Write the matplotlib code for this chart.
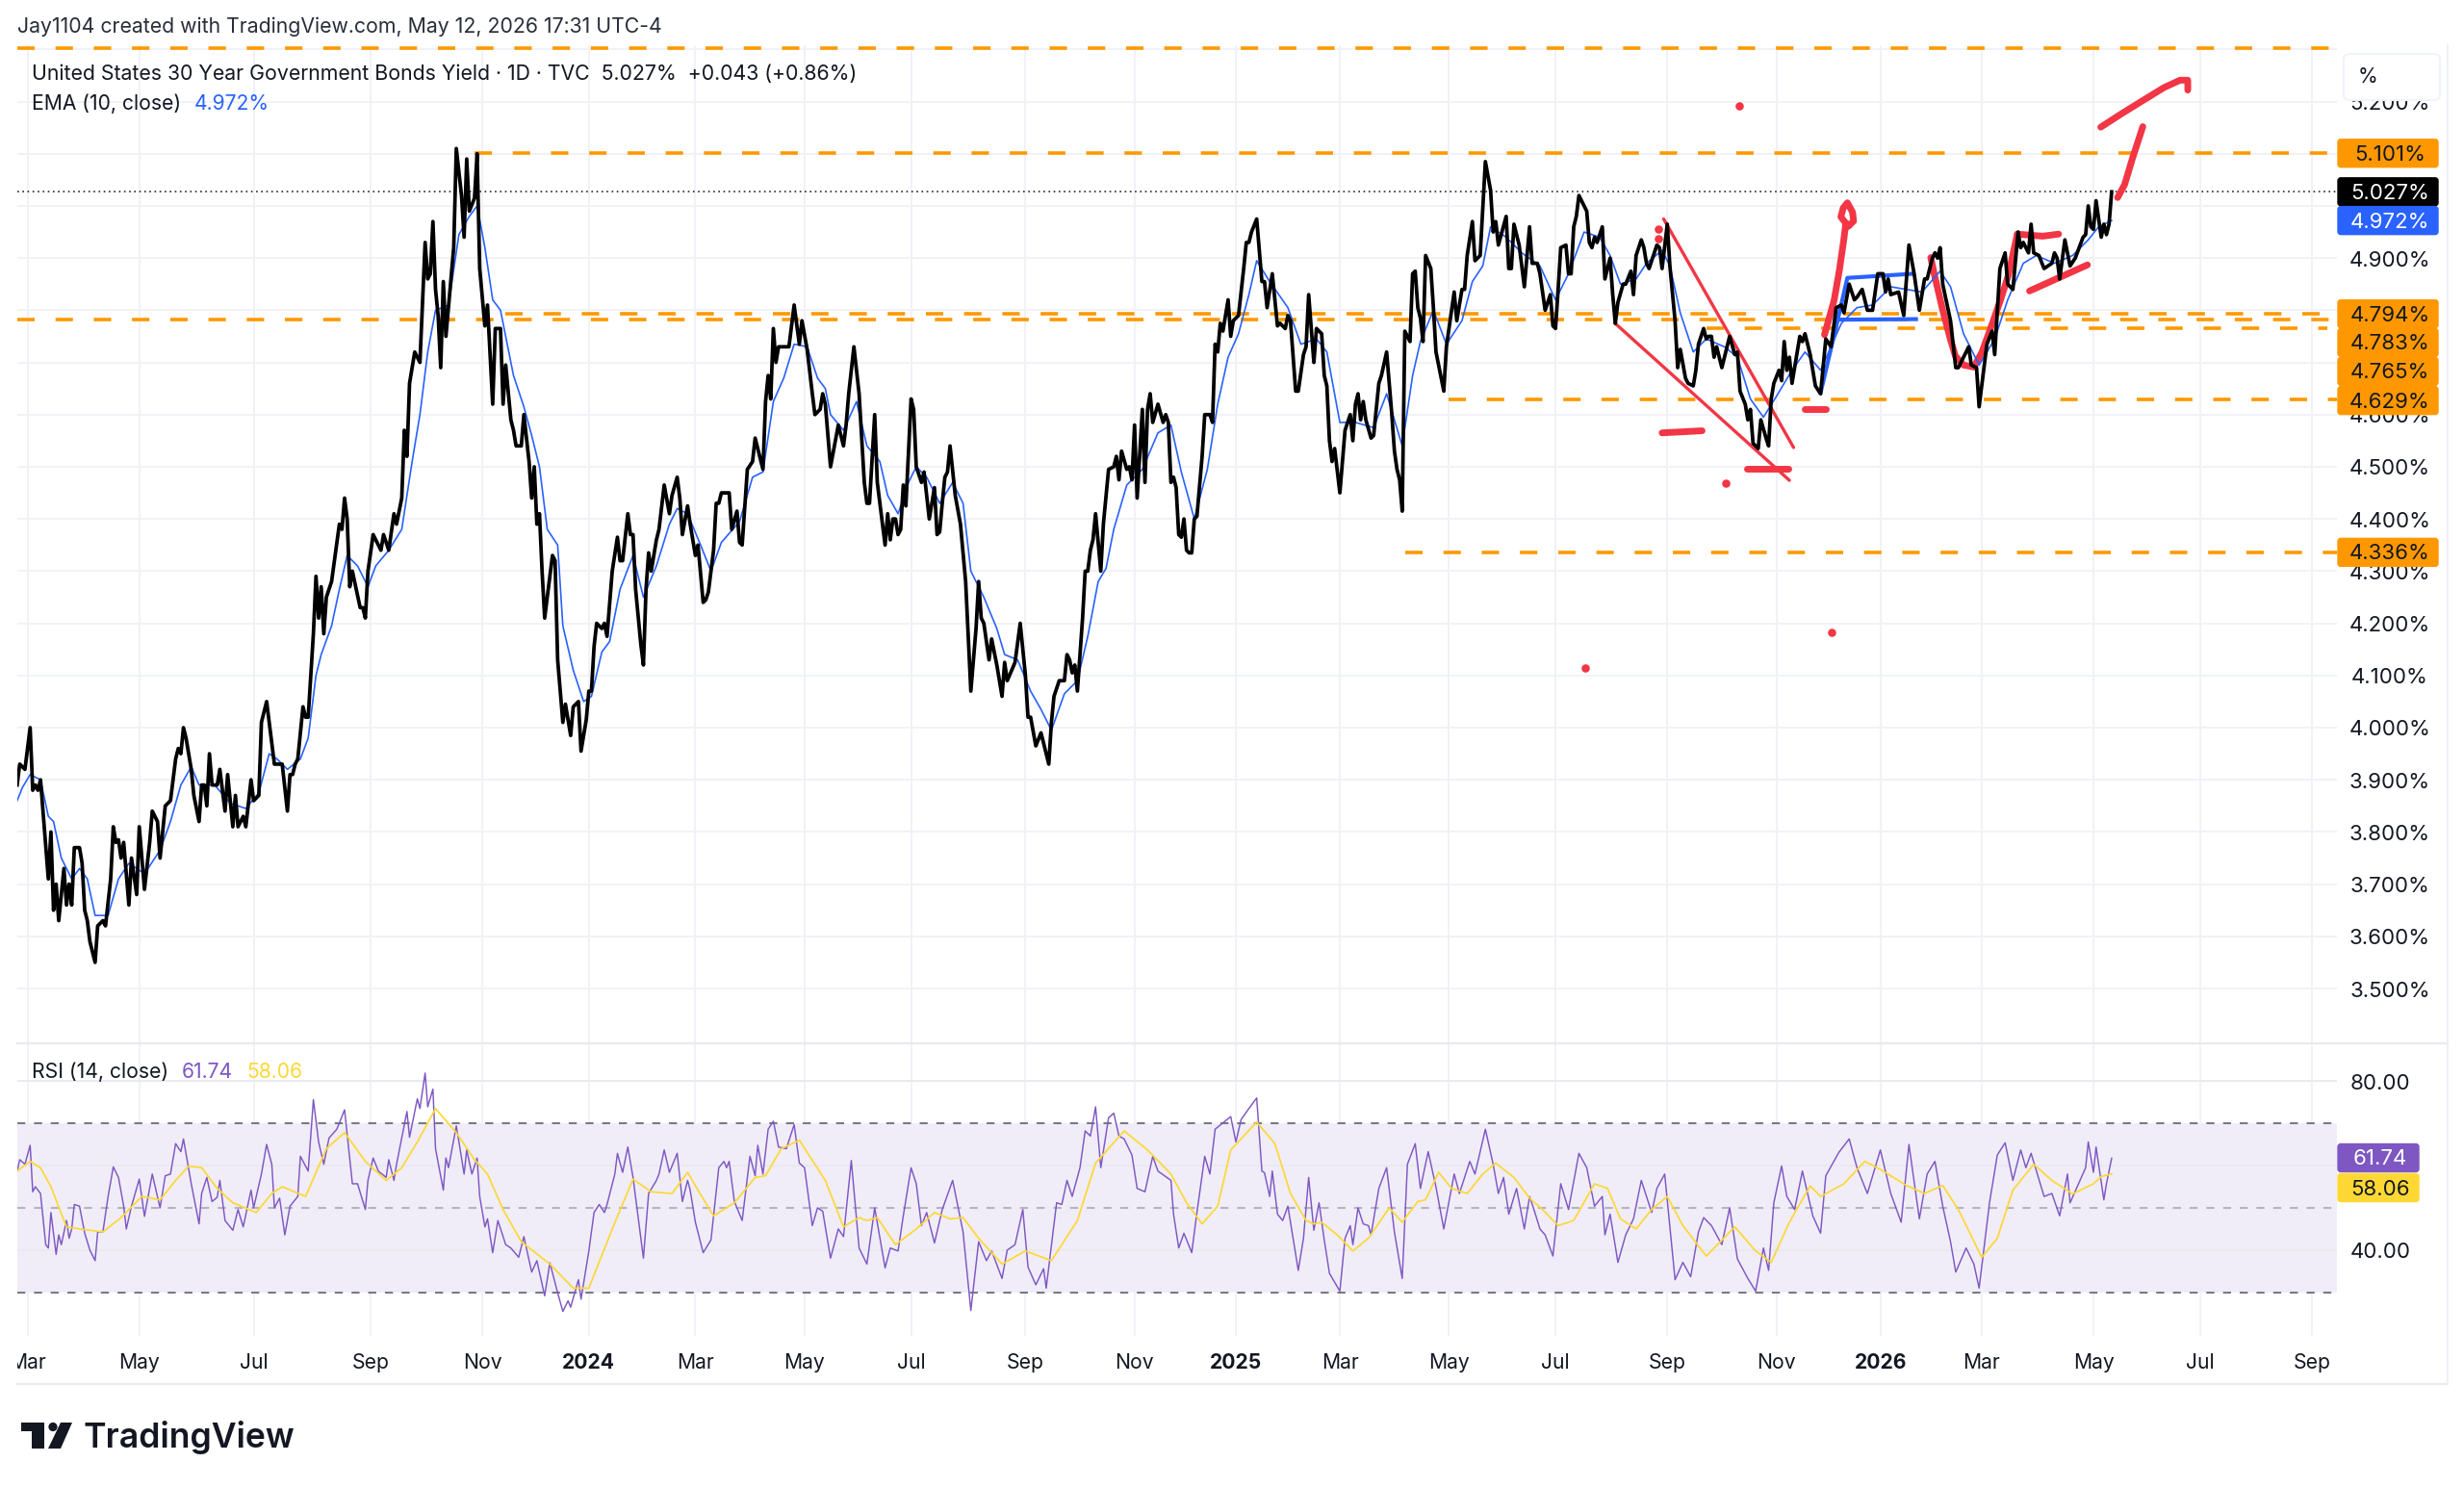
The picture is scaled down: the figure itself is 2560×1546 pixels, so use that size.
import matplotlib
matplotlib.use("Agg")
import matplotlib.pyplot as plt
from matplotlib.patches import FancyBboxPatch, Polygon, Circle
from matplotlib.transforms import Bbox

plt.rcParams['font.family'] = ['Inter', 'DejaVu Sans']
plt.rcParams['lines.scale_dashes'] = False

# ---------- data (x = trading-bar index, bar 0 = start of March 2023) ----------
price_bar = [-4,-3,-1,1,2,3,4,5,8,9,10,11,12,14,15,16,17,18,20,21,22,23,24,26,27,29,30,32,33,34,35,36,37,39,40,42,43,45,47,48,50,51,53,55,57,58,59,60,61,63,64,66,67,68,69,70,71,73,74,76,77,79,80,81,83,84,86,87,89,90,92,93,95,98,100,101,102,103,104,106,107,108,109,
 110,111,112,113,114,115,117,120,121,122,123,124,125,128,129,130,131,133,135,136,137,139,141,142,144,145,146,147,149,151,153,154,155,156,157,158,159,160,161,164,165,167,168,169,170,172,173,174,176,177,179,180,182,183,184,186,187,188,190,191,193,194,195,196,197,198,199,202,203,204,206,207,209,210,212,213,215,216,217,218,219,221,222,223,225,227,228,229,231,232,233,234,236,237,238,239,240,242,243,245,247,248,250,251,252,254,255,257,258,260,261,262,264,265,266,267,270,271,273,274,275,277,279,280,283,284,285,286,287,288,289,293,295,297,298,300,302,303,
 305,306,307,309,312,314,315,316,318,320,322,323,324,326,327,330,331,332,333,334,335,336,337,338,340,341,342,344,345,347,349,350,351,352,353,354,355,357,359,361,363,365,366,367,368,370,371,373,375,376,377,380,382,384,385,386,388,390,393,394,395,397,399,400,401,402,403,404,406,407,408,409,410,411,413,414,416,418,419,420,421,423,424,425,426,427,429,430,431,432,433,435,437,438,439,440,441,442,443,444,445,446,447,448,449,450,452,453,455,456,457,458,459,460,462,463,464,466,468,469,470,471,473,475,476,477,479,481,482,484,485,486,488,489,491,492,493,495,496,498,499,500,501,502,503,505,507,509,510,511,512,513,514,515,517,518,520,521,523,525,526,527,528,529,530,532,533,534,535,536,537,538,540,541,542,545,546,549,550,552,553,554,556,557,559,561,563,564,565,566,569,570,571,572,574,576,578,579,581,582,583,584,586,587,588,589,590,592,593,594,595,596,597,598,600,601,602,603,604,606,607,609,610,611,612,614,615,617,618,
 619,621,622,623,624,627,628,629,631,632,634,635,636,638,639,641,642,643,645,646,647,648,649,650,652,655,657,658,659,661,662,663,664,666,667,669,670,671,672,674,675,676,677,678,679,682,683,684,686,688,690,692,694,696,698,699,701,703,704,706,708,710,712,714,715,716,717,720,722,724,726,728,730,731,733,734,735,736,737,740,742,743,745,747,748,750,751,753,754,756,757,759,761,762,764,766,767,768,770,771,772,774,776,779,780,781,782,784,786,788,791,792,793,794,795,796,798,799,800,801,802]
price_val = [3.89,3.93,3.92,4.00,3.88,3.89,3.88,3.90,3.71,3.80,3.65,3.70,3.63,3.73,3.66,3.70,3.66,3.77,3.77,3.74,3.65,3.63,3.59,3.55,3.62,3.63,3.62,3.71,3.81,3.78,3.785,3.75,3.78,3.66,3.75,3.68,3.81,3.69,3.78,3.84,3.82,3.75,3.85,3.86,3.94,3.96,3.95,4.00,3.98,3.92,3.87,3.82,3.89,3.89,3.85,3.95,3.89,3.89,3.92,3.84,3.91,3.81,3.87,3.81,3.83,3.81,3.90,3.86,3.87,4.01,4.05,4.01,3.93,3.93,3.84,3.91,3.91,3.93,3.94,4.04,4.02,4.02,4.10,
 4.18,4.29,4.21,4.27,4.18,4.25,4.28,4.39,4.38,4.44,4.40,4.27,4.30,4.23,4.23,4.21,4.30,4.37,4.35,4.34,4.37,4.34,4.41,4.39,4.44,4.57,4.52,4.66,4.72,4.70,4.93,4.86,4.87,4.97,4.84,4.79,4.69,4.855,4.75,4.92,5.11,5.02,4.94,5.09,4.99,5.015,5.10,4.88,4.77,4.81,4.62,4.765,4.765,4.62,4.695,4.59,4.57,4.54,4.54,4.60,4.51,4.44,4.50,4.39,4.41,4.30,4.21,4.33,4.32,4.13,4.01,4.045,3.985,4.04,4.05,3.955,4.015,4.07,4.07,4.155,4.20,4.19,4.20,4.175,4.30,4.365,4.32,4.32,4.41,4.37,4.37,4.265,4.16,4.12,4.265,4.335,4.30,4.36,4.38,4.465,4.41,4.445,4.48,4.44,4.37,4.425,4.39,4.33,4.35,4.24,4.245,4.26,4.34,4.43,4.43,4.45,4.45,4.38,4.415,4.355,4.35,4.495,4.51,4.555,4.495,4.625,4.675,4.63,4.765,4.70,4.73,4.73,4.81,4.735,4.78,4.725,4.64,4.60,
 4.61,4.64,4.62,4.50,4.58,4.54,4.58,4.64,4.73,4.64,4.47,4.43,4.43,4.60,4.47,4.35,4.41,4.36,4.40,4.40,4.37,4.38,4.465,4.425,4.63,4.61,4.50,4.47,4.49,4.40,4.46,4.37,4.375,4.43,4.48,4.49,4.54,4.445,4.39,4.28,4.07,4.19,4.28,4.21,4.20,4.13,4.17,4.12,4.06,4.125,4.09,4.125,4.20,4.10,4.02,4.02,3.965,3.99,3.93,4.01,4.06,4.09,4.09,4.14,4.13,4.105,4.12,4.07,4.21,4.30,4.30,4.34,4.36,4.41,4.30,4.39,4.495,4.50,4.52,4.475,4.53,4.495,4.50,4.475,4.58,4.44,4.61,4.47,4.61,4.64,4.585,4.62,4.585,4.60,4.585,4.47,4.48,4.46,4.37,4.365,4.40,4.34,4.335,4.335,4.40,4.405,4.52,4.60,4.60,4.585,4.735,4.72,4.775,4.76,4.82,4.75,4.78,4.79,4.88,4.93,4.93,4.95,4.975,4.855,4.855,4.805,4.87,4.77,4.775,4.765,4.79,4.78,4.645,4.645,4.715,4.73,4.83,4.70,4.765,4.755,4.675,4.655,4.55,4.51,4.535,4.45,4.57,4.60,4.55,4.62,4.64,4.59,4.625,4.59,4.555,4.56,4.66,4.675,4.72,4.60,4.53,4.495,4.475,4.415,4.76,4.74,4.87,4.875,4.805,4.785,4.74,4.905,4.88,4.805,4.72,4.645,4.73,4.835,4.78,4.84,4.84,4.905,4.97,4.895,4.905,5.085,5.03,4.95,4.97,4.925,4.98,4.88,4.88,4.965,4.925,4.845,4.96,4.89,4.89,4.87,4.835,4.80,4.83,4.77,4.765,4.84,4.92,4.925,4.87,4.87,4.96,4.98,5.02,5.01,4.99,4.93,4.92,4.94,4.93,4.96,4.86,4.90,4.83,4.775,4.815,4.85,4.85,4.875,4.83,
 4.905,4.935,4.92,4.89,4.88,4.925,4.92,4.88,4.965,4.885,4.78,4.69,4.725,4.67,4.66,4.655,4.685,4.735,4.765,4.745,4.75,4.75,4.71,4.73,4.69,4.75,4.715,4.72,4.645,4.62,4.59,4.61,4.545,4.535,4.59,4.555,4.54,4.63,4.66,4.685,4.665,4.74,4.685,4.71,4.66,4.75,4.74,4.755,4.715,4.655,4.64,4.745,4.73,4.805,4.81,4.795,4.85,4.82,4.825,4.84,4.80,4.80,4.87,4.87,4.835,4.86,4.83,4.835,4.79,4.925,4.87,4.80,4.86,4.86,4.90,4.91,4.90,4.92,4.85,4.78,4.69,4.69,4.71,4.73,4.695,4.69,4.615,4.695,4.735,4.76,4.715,4.88,4.91,4.85,4.84,4.95,4.92,4.93,4.91,4.965,4.91,4.905,4.88,4.89,4.91,4.90,4.86,4.935,4.885,4.90,4.94,4.945,5.00,4.96,4.955,5.01,4.94,4.965,4.945,4.965,5.027]

ema_bar = [-4,-2,1,5,8,10,13,17,20,23,26,31,35,39,45,51,55,59,63,66,72,78,84,89,93,96,100,105,108,111,113,117,120,123,127,131,134,139,144,148,151,154,157,162,166,170,173,176,179,182,187,191,194,197,200,204,206,210,214,217,221,224,228,233,237,242,247,250,254,259,263,267,274,279,283,287,291,295,300,304,
 307,309,314,319,323,328,331,335,339,342,346,351,356,360,363,368,373,376,381,386,390,394,399,404,408,412,415,418,423,429,435,440,444,449,454,458,462,466,470,473,478,485,490,496,500,505,511,518,523,529,533,536,541,546,552,556,560,563,569,575,582,588,593,599,605,609,613,619,
 623,629,632,636,641,646,653,658,663,668,673,679,684,690,694,698,704,710,717,723,729,736,740,745,751,757,762,768,773,780,787,793,797,802]
ema_val = [3.86,3.885,3.91,3.90,3.83,3.82,3.75,3.71,3.73,3.71,3.64,3.64,3.71,3.74,3.72,3.765,3.82,3.89,3.925,3.89,3.89,3.855,3.845,3.875,3.95,3.94,3.92,3.94,3.98,4.10,4.14,4.195,4.265,4.33,4.31,4.27,4.31,4.34,4.38,4.51,4.60,4.72,4.80,4.81,4.945,4.98,5.00,4.92,4.82,4.80,4.675,4.615,4.56,4.50,4.38,4.35,4.195,4.11,4.05,4.06,4.145,4.165,4.265,4.33,4.25,4.31,4.39,4.42,4.41,4.35,4.30,4.355,4.395,4.48,4.49,4.625,4.67,4.735,4.73,4.67,
 4.65,4.60,4.57,4.625,4.54,4.51,4.445,4.41,4.47,4.50,4.48,4.43,4.47,4.43,4.30,4.25,4.19,4.14,4.13,4.07,4.035,3.995,4.065,4.09,4.175,4.28,4.305,4.38,4.465,4.495,4.565,4.58,4.49,4.40,4.495,4.62,4.71,4.755,4.83,4.895,4.855,4.805,4.735,4.745,4.72,4.585,4.585,4.575,4.64,4.54,4.675,4.74,4.80,4.735,4.78,4.855,4.885,4.96,4.94,4.91,4.885,4.82,4.87,4.95,4.94,4.905,4.85,4.86,
 4.89,4.915,4.885,4.795,4.72,4.745,4.73,4.71,4.63,4.595,4.635,4.685,4.72,4.685,4.73,4.775,4.805,4.81,4.845,4.84,4.835,4.875,4.845,4.755,4.695,4.745,4.82,4.89,4.905,4.89,4.905,4.935,4.96,4.972]

rsi_bar = [-4,-3,-1,1,2,3,5,7,8,9,11,12,13,15,16,17,18,20,22,24,26,27,29,31,33,35,37,38,40,43,45,48,51,53,55,57,59,60,63,66,67,69,71,73,74,76,79,81,83,86,87,90,92,94,95,97,99,101,104,105,108,110,112,114,116,119,122,125,127,130,131,133,135,138,139,141,142,146,147,150,151,153,154,156,157,160,161,162,165,168,169,171,173,174,176,177,179,181,184,186,189,191,194,196,199,201,204,206,208,209,212,213,216,218,220,222,223,226,227,229,231,233,236,237,239,242,243,245,247,250,252,254,255,257,260,263,266,268,269,270,272,275,278,280,281,283,285,287,289,292,295,297,299,302,304,306,309,312,314,317,320,323,326,330,332,335,337,340,342,344,346,349,352,356,360,363,366,369,371,375,377,380,383,385,388,391,392,396,398,400,402,405,407,409,411,413,416,418,420,422,425,427,430,433,435,440,441,443,445,448,450,453,455,457,460,463,
 465,467,470,473,475,476,478,479,481,483,485,489,491,493,495,497,499,501,505,507,509,510,512,514,516,517,520,523,526,529,531,534,536,539,542,545,549,551,555,557,561,564,566,568,570,573,576,578,580,582,584,587,590,593,597,600,603,606,607,609,612,615,618,621,625,627,630,634,637,640,643,645,648,652,655,658,662,665,668,670,672,675,677,680,683,687,690,692,697,701,704,708,713,717,721,724,728,731,734,737,740,742,746,749,751,755,758,761,764,767,769,771,776,779,782,785,786,792,793,795,796,799,800,802]
rsi_val = [58.7,61.4,60.3,64.8,53.8,55,53.4,41.3,40.5,48.9,39,43.6,41.3,47,42.8,45,50.8,50.4,44,40,37.5,44.3,44.3,52.7,59.7,57.2,50.4,45,50.4,56.8,48,58,50,57.6,58,65.2,63.3,66.3,55.7,46.2,53.4,57.2,51.5,52.5,56.5,47,44.7,49.6,45.5,54.2,50,58,65,60.3,50,52.3,43.6,50.4,52.7,62.2,58.7,75.6,65.6,60.3,66.5,68.6,73.2,55.7,55.7,49.6,56.5,61.8,58.7,57.2,61.4,56.5,60.3,72.8,66.7,75.8,73.5,81.9,73.9,78.1,64,54.2,61.8,59.5,69.4,58,63.7,58,61.8,52.7,45.5,47.4,39.4,47,41.3,40.5,38.3,43.2,34.8,37.5,29.2,37,29.9,25.5,28,26.5,33,28.4,39.8,48.9,50.8,48.9,50.8,58,62.9,58.4,64.4,57.2,42.8,38.1,53.4,56.5,58,63.7,58.4,62.9,51.5,56.5,54.2,46.6,39.4,42.4,59.5,61,59.5,61,51.5,47,62.2,57.6,64.8,58,68.6,70.5,64.4,64,69.7,60.6,59.5,45.8,50,49.2,38.1,45,43.2,61.2,40.5,36.7,50,35.8,40.5,39.8,48.1,59.5,55.7,45.8,48.9,41.7,49.6,56.5,44.3,25.7,42,37.5,39.8,33.3,40,41.3,49.6,36,31.8,35.6,31,51.2,50.8,56.5,52.7,59.5,68.2,67,73.9,59.5,71.3,72.4,67,66.3,62.5,54.6,53.8,62.2,58.7,56.5,48.5,40.5,44,39.4,48.9,62.2,58,68.6,70.1,71.6,
 65.6,70.9,73.5,76,58.7,58.3,52.7,58.7,48.5,47,50.4,35.2,42.8,57.2,44.7,51.2,42.4,34.5,30.3,42.8,45.8,41.3,50,46.2,45.8,43.6,54.6,59.5,44.3,33.3,60.3,65.2,54.6,63.3,54.9,45,58,53.4,61,58,68.6,60.3,53.4,57.2,48.5,54.6,45,52.7,49,45,43.6,38.6,55.7,49.6,62.9,59.5,50.4,52.7,43.6,48.5,37.1,43.6,47.4,56.5,48.9,54.6,58,33,37.1,33.7,44.3,47.7,45.8,41.3,50,37.9,33.3,30.3,40.5,35.2,51.2,59.9,52.7,49.6,58.7,48.1,44,57.6,63.1,66.3,59.5,53.4,63.7,53.4,46.6,65,47.4,58,61,50.4,42,34.8,40.5,36.7,31,51.2,62.5,65.4,56.5,63.7,59.5,62.9,52.7,53.4,48.1,58,51.2,59.5,65.6,58.4,64.4,51.9,55.7,61.74]

rsi_ma_bar = [-4,1,5,9,15,20,29,36,44,51,57,62,67,73,79,88,94,98,107,115,122,130,138,144,150,157,165,172,177,183,190,201,210,216,225,233,240,248,254,258,264,272,280,284,290,297,307,314,320,323,327,334,342,349,355,360,366,375,384,394,404,411,422,431,440,446,452,458,463,
 468,473,480,486,492,495,498,504,510,516,524,529,535,538,543,548,554,560,565,572,578,583,589,595,603,608,613,619,625,631,637,646,657,665,671,678,686,690,699,707,713,723,730,737,743,752,758,764,772,779,787,795,798,802]
rsi_ma_val = [58.7,61,59.5,55,45.5,45,44.3,47.7,52.7,51.9,56.5,59.9,59.5,54.6,51.2,48.9,53.4,55,52.7,64,67.8,61,56.5,59.5,65.6,73.5,67.8,61.4,58,49.6,42,36.7,31,31,45,56.8,53.8,53.4,58.4,54.2,48.1,51.2,57.2,57.6,64,66,56.5,45.5,47.7,47,47.7,41.3,45,48.9,47.4,47.7,42.8,36.7,39.8,37.5,47,60.6,68.2,63.7,58,51.2,46.2,50.4,63.7,
 67,70.3,65.2,53.4,47,46.2,46.6,43.6,39.8,42.8,50,46.6,51.5,51.9,58.4,54.6,53.4,58,60.6,57.2,52.3,49.6,45.8,47,55.7,54.6,47.4,45,49.6,52.7,45.8,38.6,45.5,39.8,37.1,46.6,55.2,52.7,55.7,61,59.1,55.3,53.4,55.3,49.6,38.3,42.8,54.2,60.3,56.5,53.3,55.7,57.4,58.06]

tick_bars = [0,43,87,132,175,216,257,299,340,384,426,465,505,547,588,631,673,713,752,795,836,879]
tick_labels = ['Mar','May','Jul','Sep','Nov','2024','Mar','May','Jul','Sep','Nov','2025','Mar','May','Jul','Sep','Nov','2026','Mar','May','Jul','Sep']
price_grid = [3.5,3.6,3.7,3.8,3.9,4.0,4.1,4.2,4.3,4.4,4.5,4.6,4.7,4.8,4.9,5.0,5.1,5.2,5.3]
price_axis_labels = [5.2,4.9,4.6,4.5,4.4,4.3,4.2,4.1,4.0,3.9,3.8,3.7,3.6,3.5]
rsi_grid = [40,60,80]

# horizontal drawings: level, first bar
level_values = [5.302,5.101,4.794,4.783,4.765,4.629,4.336]
level_starts = [-4,172,184,-4,646,547,530]
level_ends = [889,889,889,889,885,889,889]
# right-hand price tags: shown value, vertical slot on the scale
tag_values = ['5.101%','4.794%','4.783%','4.765%','4.629%','4.336%']
tag_slots = [5.101,4.793,4.738,4.683,4.627,4.336]

# hand drawn annotations
wedge_up_bar, wedge_up_val = [629.6,679.6],[4.975,4.537]
wedge_lo_bar, wedge_lo_val = [610.7,678],[4.776,4.474]
dots_bar, dots_val = [658.6,653.5,694.2,599.6,627.5,627.5],[5.192,4.469,4.182,4.114,4.956,4.938]
strokes = [
 ([629,644.4],[4.565,4.569]),
 ([661.7,677.5],[4.497,4.497]),
 ([684,692],[4.61,4.61]),
 ([691.5,695.2,697.2,698.9,699.7,697.8,698.7,700.3,702.3,702.7,700.7,699.7],[4.753,4.819,4.876,4.934,4.967,4.979,4.996,5.006,4.988,4.971,4.961,4.967]),
 ([732.4,733.8,736.9,739.9,741.9,745,749,752.1,755.1,759.2,762.3,765.7],[4.901,4.868,4.802,4.745,4.712,4.695,4.691,4.72,4.761,4.819,4.868,4.946]),
 ([765.7,770.4,775.5,781.6],[4.946,4.944,4.942,4.946]),
 ([770.4,792.7],[4.837,4.887]),
 ([804.3,807,810,814],[5.016,5.041,5.091,5.152]),
 ([797.8,805.9,814,822.2,828.3,831.3,831.3],[5.151,5.177,5.202,5.227,5.241,5.241,5.222]),
]
flag_bar, flag_val = [690,696.6,700.3,725.7],[4.642,4.782,4.862,4.870]
flag_lo_bar, flag_lo_val = [696.6,726.7],[4.782,4.783]

# ---------- style ----------
INK='#131722'; GRID='#f0f2f6'; ORANGE='#FF9800'; BLUE='#2962FF'; RED='#F23645'
PURPLE='#7E57C2'; YELLOW='#FDD835'; BAND='#F0EDF8'
W,H=2560,1546
L,R=18,2428
XL=(-3.93,888.7)

fig=plt.figure(figsize=(25.6,15.46),dpi=100,facecolor='white')
def rect(top,bottom): return [L/W,1-bottom/H,(R-L)/W,(bottom-top)/H]
ax=fig.add_axes(rect(47,1083))
rs=fig.add_axes(rect(1085,1388))
for a in (ax,rs):
    a.set_xlim(*XL)
    a.set_xticks([]); a.set_yticks([])
    for s in a.spines.values(): s.set_visible(False)
    for b in tick_bars:
        a.axvline(b,color=GRID,lw=1.4,zorder=0)
ax.set_ylim(3.3967,5.308)
rs.set_ylim(19.7,88.7)
for v in price_grid: ax.axhline(v,color=GRID,lw=1.4,zorder=0)

dash=(0,(13,15.6))
for v,s,e in zip(level_values,level_starts,level_ends):
    ax.plot([s,e],[v,v],color=ORANGE,lw=2.6,ls=dash,dash_capstyle='butt',zorder=2)
ax.axhline(5.027,color='#131722',lw=1.1,ls=(0,(1.2,2.6)),zorder=2)

ax.plot(wedge_up_bar,wedge_up_val,color=RED,lw=2.4,zorder=3,solid_capstyle='round')
ax.plot(wedge_lo_bar,wedge_lo_val,color=RED,lw=2.4,zorder=3,solid_capstyle='round')
for xs,ys in strokes:
    ax.plot(xs,ys,color=RED,lw=5.0,zorder=3,solid_capstyle='round',solid_joinstyle='round')
ax.scatter(dots_bar,dots_val,s=38,color=RED,lw=0,zorder=3)
ax.plot(flag_bar,flag_val,color=BLUE,lw=3,zorder=3,solid_joinstyle='round')
ax.plot(flag_lo_bar,flag_lo_val,color=BLUE,lw=3,zorder=3)

ax.plot(ema_bar,ema_val,color=BLUE,lw=1.2,zorder=4)
ax.plot(price_bar,price_val,color='black',lw=2.7,zorder=5,solid_joinstyle='round')

# RSI pane
rs.axhspan(30,70,color=BAND,lw=0,zorder=0.5)
for v in rsi_grid: rs.axhline(v,color='#e9e9ef',lw=1.4,zorder=0.6)
for v,c in ((70,'#787B86'),(30,'#787B86'),(50,'#b2b5be')):
    rs.axhline(v,color=c,lw=1.5,ls=(0,(6,6.5)),dash_capstyle='butt',zorder=1)
rs.plot(rsi_bar,rsi_val,color=PURPLE,lw=1.05,zorder=3)
rs.plot(rsi_ma_bar,rsi_ma_val,color=YELLOW,lw=1.25,zorder=4)

# overlay in pixels for chart furniture
ov=fig.add_axes([0,0,1,1],zorder=20)
ov.set_xlim(0,W); ov.set_ylim(H,0); ov.axis('off'); ov.patch.set_alpha(0)
FS=15.2
def T(x,y,s,c=INK,ha='left',fs=FS,**k):
    return ov.text(x,y+2.5,s,color=c,ha=ha,va='center',fontsize=fs,**k)

ov.plot([L,2543],[1083.5,1083.5],color='#e8eaef',lw=1.6)
ov.plot([L,2543],[1438,1438],color='#e8eaef',lw=1.6)
ov.plot([2543,2543],[47,1438],color='#eef0f4',lw=1.4)

T(18,25.5,'Jay1104 created with TradingView.com, May 12, 2026 17:31 UTC-4',c='#2a2e39',fs=15.3)
T(33,74,'United States 30 Year Government Bonds Yield · 1D · TVC  5.027%  +0.043 (+0.86%)',fs=15.3)
T(33,105,'EMA (10, close)'); T(202,105,'4.972%',c=BLUE)
T(33,1111,'RSI (14, close)'); T(189,1111,'61.74',c=PURPLE); T(256,1111,'58.06',c=YELLOW)

def yp(v): return H-ax.transData.transform((0,v))[1]
def yr(v): return H-rs.transData.transform((0,v))[1]
AX_FS=16.0
for v in price_axis_labels:
    T(2483,yp(v),f'{v:.3f}%',ha='center',fs=AX_FS)
def tag(y,s,bg,fg,x1=2533,cx=2483):
    ov.add_patch(FancyBboxPatch((2429,y-14.5),x1-2429,29,boxstyle='round,pad=0,rounding_size=3',fc=bg,ec=bg,lw=1,zorder=5))
    T(cx,y-1,s,c=fg,ha='center',fs=AX_FS,zorder=6)
tag(yp(5.027),'5.027%','#000000','white')
tag(yp(4.972),'4.972%',BLUE,'white')
for s,v in zip(tag_values,tag_slots):
    tag(yp(v),s,ORANGE,INK)
for v in (80,40):
    T(2473,yr(v),f'{v:.2f}',ha='center',fs=AX_FS)
tag(1203,'61.74',PURPLE,'white',x1=2513,cx=2473)
tag(1234,'58.06',YELLOW,INK,x1=2513,cx=2473)
ov.add_patch(FancyBboxPatch((2435,56),100,48,boxstyle='round,pad=0,rounding_size=6',fc='white',ec='#f0f3fa',lw=1.5,zorder=7))
T(2460,77,'%',ha='center',zorder=8)

clip=Bbox([[L,0],[R+60,H]])
for b,s in zip(tick_bars,tick_labels):
    x=L+(b-XL[0])/(XL[1]-XL[0])*(R-L)
    t=T(x,1414,s,ha='center',fontweight='bold' if s.isdigit() else 'normal')
    t.set_clip_on(True); t.set_clip_box(clip)

# TradingView logo
ov.add_patch(Polygon([(22,1478),(46,1478),(46,1505),(33,1505),(33,1487),(22,1487)],fc='#131722',ec='none'))
ov.add_patch(Circle((55,1482.5),4.6,fc='#131722',ec='none'))
ov.add_patch(Polygon([(63,1478),(75,1478),(63,1505),(50,1505)],fc='#131722',ec='none'))
T(86,1491,'TradingView',fs=25.6,fontweight='semibold')

fig.savefig('out.png',dpi=100,facecolor='white')
